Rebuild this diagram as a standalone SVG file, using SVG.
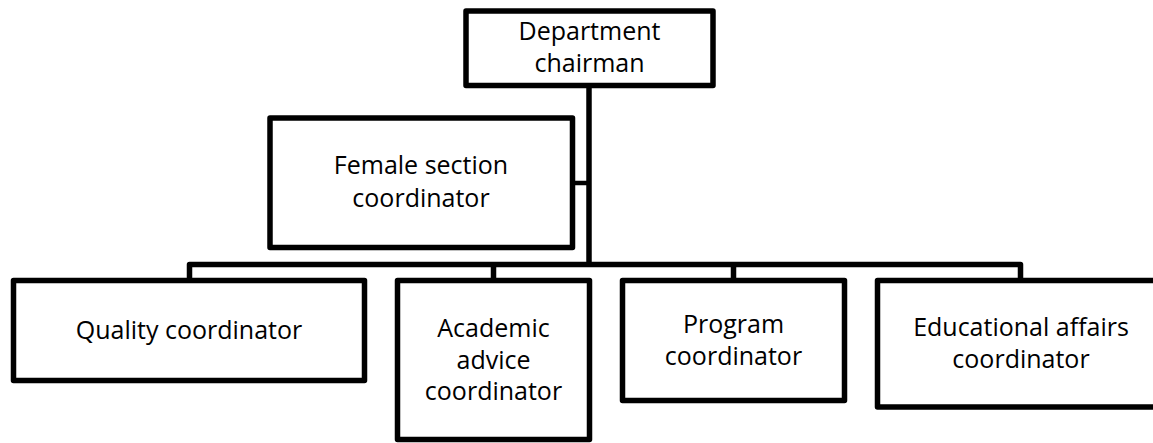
<svg xmlns="http://www.w3.org/2000/svg" width="1153" height="443" viewBox="0 0 1153 443">
<style>
.box{fill:#fff;stroke:#000;stroke-width:5.5;stroke-linejoin:round}
.ln{fill:none;stroke:#000;stroke-width:5.5;stroke-linejoin:round}
text{font-family:"Open Sans","Liberation Sans",sans-serif;font-size:25px;fill:#000;text-anchor:middle}
</style>
<rect width="1153" height="443" fill="#fff"/>
<g id="connectors">
<path class="ln" d="M589 86 V264.5"/>
<path class="ln" d="M572 183 H589" style="stroke-width:4.5"/>
<path class="ln" d="M189.5 280 V264.5 H1020.5 V280"/>
<path class="ln" d="M493.5 264.5 V280"/>
<path class="ln" d="M733.5 264.5 V280"/>
</g>
<g id="chairman">
<rect class="box" x="466" y="11" width="247" height="74.5"/>
<text x="589.5" y="40">Department</text>
<text x="589.5" y="72">chairman</text>
</g>
<g id="female">
<rect class="box" x="270" y="118" width="302.5" height="129.5"/>
<text x="421" y="174">Female section</text>
<text x="421" y="207">coordinator</text>
</g>
<g id="quality">
<rect class="box" x="13.5" y="280.5" width="351" height="100"/>
<text x="189" y="339">Quality coordinator</text>
</g>
<g id="academic">
<rect class="box" x="397.5" y="280.5" width="192" height="159"/>
<text x="493.5" y="337">Academic</text>
<text x="493.5" y="368.5">advice</text>
<text x="493.5" y="400">coordinator</text>
</g>
<g id="program">
<rect class="box" x="622.5" y="280.5" width="222" height="120"/>
<text x="733.5" y="333">Program</text>
<text x="733.5" y="365">coordinator</text>
</g>
<g id="educational">
<rect class="box" x="877.5" y="280.5" width="290" height="126.5"/>
<text x="1021" y="336">Educational affairs</text>
<text x="1021" y="368">coordinator</text>
</g>
</svg>
